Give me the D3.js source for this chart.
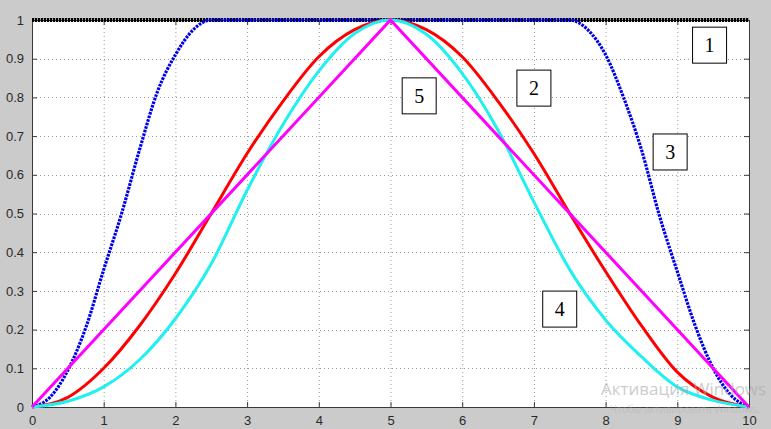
<!DOCTYPE html>
<html>
<head>
<meta charset="utf-8">
<script src="https://cdn.jsdelivr.net/npm/d3@7"></script>
<style>
  html, body { margin: 0; padding: 0; background: #cbcbcb; }
  svg { display: block; }
</style>
</head>
<body>
<svg id="chart"></svg>
<script>
// x positions for each series
const xHalf = [0, 0.5, 1, 1.5, 2, 2.5, 3, 3.5, 4, 4.5, 5, 5.5, 6, 6.5, 7, 7.5, 8, 8.5, 9, 9.5, 10];
const xQuarter = [0, 0.25, 0.5, 0.75, 1, 1.25, 1.5, 1.75, 2, 2.25, 2.5, 2.75, 3, 3.25, 3.5, 3.75, 4, 4.25, 4.5, 4.75,
  5, 5.25, 5.5, 5.75, 6, 6.25, 6.5, 6.75, 7, 7.25, 7.5, 7.75, 8, 8.25, 8.5, 8.75, 9, 9.25, 9.5, 9.75, 10];
const xEnds = [0, 10];
const xTri = [0, 5, 10];

// curve values
const curve1 = [1, 1];
const curve2 = [0, 0.025, 0.1, 0.21, 0.345, 0.5, 0.655, 0.79, 0.905, 0.975, 1,
  0.975, 0.905, 0.79, 0.655, 0.5, 0.35, 0.21, 0.09, 0.025, 0];
const curve3 = [0, 0.025, 0.095, 0.205, 0.355, 0.5, 0.665, 0.815, 0.91, 0.975, 1, 1, 1, 1, 1, 1, 1, 1, 1, 1,
  1, 1, 1, 1, 1, 1, 1, 1, 1, 1, 1, 0.975, 0.91, 0.8, 0.665, 0.495, 0.35, 0.21, 0.1, 0.03, 0];
const curve4 = [0, 0.015, 0.052, 0.122, 0.228, 0.37, 0.56, 0.73, 0.868, 0.965, 1,
  0.963, 0.862, 0.715, 0.53, 0.355, 0.225, 0.13, 0.052, 0.017, 0];
const curve5 = [0, 1, 0];

const xTicks = [0, 1, 2, 3, 4, 5, 6, 7, 8, 9, 10];
const yTicks = [0, 0.1, 0.2, 0.3, 0.4, 0.5, 0.6, 0.7, 0.8, 0.9, 1];

// numbered boxes: label, x, y (data units)
const labels = ["1", "2", "3", "4", "5"];
const labelX = [9.45, 7.0, 8.9, 7.36, 5.4];
const labelY = [0.935, 0.824, 0.659, 0.253, 0.804];

const width = 771;
const height = 429;
const margin = { top: 20, right: 22, bottom: 22, left: 32 };

const svg = d3.select("#chart").attr("width", width).attr("height", height);

svg.append("rect").attr("width", width).attr("height", height).attr("fill", "#cbcbcb");

const x = d3.scaleLinear().domain([0, 10]).range([margin.left, width - margin.right]);
const y = d3.scaleLinear().domain([0, 1]).range([height - margin.bottom, margin.top]);

// plot area
svg.append("rect")
  .attr("x", x(0)).attr("y", y(1))
  .attr("width", x(10) - x(0)).attr("height", y(0) - y(1))
  .attr("fill", "#fff");

// grid
const grid = svg.append("g").attr("stroke", "#9a9a9a").attr("stroke-width", 1).attr("stroke-dasharray", "1 3");
grid.selectAll("line.gx").data(xTicks.slice(1, -1)).join("line")
  .attr("x1", (d) => x(d) + 0.5).attr("x2", (d) => x(d) + 0.5)
  .attr("y1", y(1)).attr("y2", y(0));
grid.selectAll("line.gy").data(yTicks.slice(1, -1)).join("line")
  .attr("y1", (d) => Math.round(y(d)) + 0.5).attr("y2", (d) => Math.round(y(d)) + 0.5)
  .attr("x1", x(0)).attr("x2", x(10));

// axes (MATLAB style: ticks inward on all sides)
const tick = 5;
const fmt = (d) => (d === 0 || d === 1 ? String(d) : d3.format(".1f")(d));
const axBottom = svg.append("g").attr("transform", `translate(0,${y(0)})`)
  .call(d3.axisBottom(x).tickValues(xTicks).tickSizeInner(-tick).tickSizeOuter(0).tickPadding(9).tickFormat(d3.format("d")));
const axTop = svg.append("g").attr("transform", `translate(0,${y(1)})`)
  .call(d3.axisTop(x).tickValues(xTicks).tickSizeInner(-tick).tickSizeOuter(0).tickFormat(""));
const axLeft = svg.append("g").attr("transform", `translate(${x(0)},0)`)
  .call(d3.axisLeft(y).tickValues(yTicks).tickSizeInner(-tick).tickSizeOuter(0).tickPadding(8).tickFormat(fmt));
const axRight = svg.append("g").attr("transform", `translate(${x(10)},0)`)
  .call(d3.axisRight(y).tickValues(yTicks).tickSizeInner(-tick).tickSizeOuter(0).tickFormat(""));

[axBottom, axTop, axLeft, axRight].forEach((g) => {
  g.select(".domain").attr("stroke", "#3a3a3a");
  g.selectAll(".tick line").attr("stroke", "#3a3a3a");
  g.selectAll("text").attr("fill", "#2a2a2a").attr("font-family", "Liberation Sans, Arial, sans-serif").attr("font-size", 13);
});

// series
const series = [
  { xs: xEnds, ys: curve1, color: "#000000", w: 4, dash: "2.2 0.8", curve: d3.curveLinear },
  { xs: xQuarter, ys: curve3, color: "#0000e8", w: 3.2, dash: "2.6 1.1", curve: d3.curveMonotoneX },
  { xs: xHalf, ys: curve2, color: "#ff0000", w: 3, dash: null, curve: d3.curveMonotoneX },
  { xs: xHalf, ys: curve4, color: "#20f0f0", w: 3, dash: null, curve: d3.curveMonotoneX },
  { xs: xTri, ys: curve5, color: "#ff00ff", w: 3, dash: null, curve: d3.curveLinear }
];

series.forEach((s) => {
  const line = d3.line().x((d) => x(d[0])).y((d) => y(d[1])).curve(s.curve);
  svg.append("path")
    .datum(s.xs.map((v, i) => [v, s.ys[i]]))
    .attr("fill", "none")
    .attr("stroke", s.color)
    .attr("stroke-width", s.w)
    .attr("stroke-dasharray", s.dash)
    .attr("d", line);
});

// numbered boxes
const box = svg.append("g").selectAll("g").data(labels).join("g")
  .attr("transform", (d, i) => `translate(${x(labelX[i])},${y(labelY[i])})`);
box.append("rect")
  .attr("x", -17).attr("y", -18).attr("width", 34).attr("height", 36)
  .attr("fill", "#fff").attr("stroke", "#000").attr("stroke-width", 1);
box.append("text")
  .attr("text-anchor", "middle").attr("dy", "0.36em")
  .attr("font-family", "Liberation Serif, Times New Roman, serif").attr("font-size", 20)
  .text((d) => d);

// windows watermark over the corner
svg.append("text")
  .attr("x", 601).attr("y", 395)
  .attr("font-family", "Open Sans, sans-serif").attr("font-size", 17)
  .attr("fill", "#a8a8a8").attr("fill-opacity", 0.6)
  .text("Активация Windows");
svg.append("text")
  .attr("x", 610).attr("y", 413)
  .attr("font-family", "Open Sans, sans-serif").attr("font-size", 10)
  .attr("fill", "#a8a8a8").attr("fill-opacity", 0.4)
  .text("Чтобы активировать Windows,");
</script>
</body>
</html>
